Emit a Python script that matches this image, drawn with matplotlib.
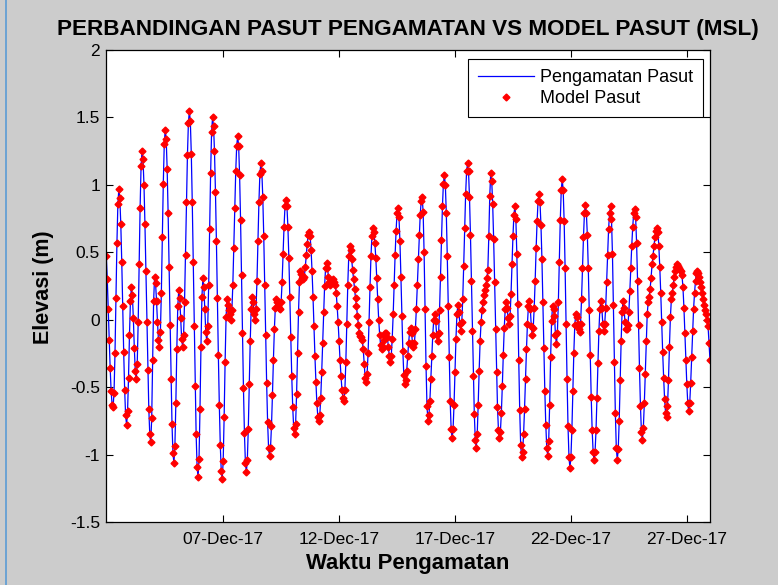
import numpy as np
import pandas as pd
import matplotlib
matplotlib.use("Agg")
import matplotlib.pyplot as plt
from matplotlib.lines import Line2D

plt.rcParams["font.family"] = ["Liberation Sans", "DejaVu Sans"]

# hourly tide elevation (m, relative to MSL)
start_time = "2017-12-01 23:00"
pengamatan_pasut = [
    0.47, 0.30, 0.08, -0.15, -0.36, -0.53, -0.63, -0.65,
    -0.54, -0.25, 0.16, 0.57, 0.86, 0.97, 0.90, 0.71, 0.43, 0.10, -0.24, -0.52,
    -0.71, -0.78, -0.68, -0.43, -0.11, 0.14,
    0.24, 0.18, 0.01, -0.21, -0.38, -0.44, -0.33, -0.02, 0.41, 0.83, 1.14, 1.25,
    1.19, 1.00, 0.71, 0.36, -0.02, -0.37, -0.66, -0.85, -0.91, -0.73, -0.30, 0.14,
    0.32, 0.27, 0.14, -0.02, -0.15, -0.20, -0.09, 0.20, 0.61, 1.01, 1.30, 1.41,
    1.34, 1.12, 0.79, 0.39, -0.04, -0.44, -0.77, -0.99, -1.06, -0.94, -0.62, -0.22,
    0.10, 0.22, 0.16, 0.01, -0.14, -0.20, -0.11, 0.13, 0.48, 0.87, 1.22, 1.46,
    1.55, 1.47, 1.23, 0.87, 0.43, -0.05, -0.49, -0.85, -1.09, -1.17, -1.03, -0.66,
    -0.20, 0.17, 0.31, 0.24, 0.08, -0.09, -0.16, -0.05, 0.26, 0.67, 1.09, 1.39,
    1.50, 1.44, 1.25, 0.95, 0.58, 0.16, -0.26, -0.63, -0.93, -1.12, -1.18, -1.05,
    -0.72, -0.31, 0.02, 0.15, 0.11, 0.07, 0.04, 0.00, 0.07, 0.26, 0.53, 0.83,
    1.10, 1.29, 1.36, 1.29, 1.07, 0.74, 0.33, -0.10, -0.51, -0.84, -1.06, -1.13, -1.04,
    -0.81, -0.48, -0.16, 0.08, 0.17, 0.13, 0.04, 0.00, 0.08, 0.29, 0.58, 0.87,
    1.08, 1.16, 1.10, 0.91, 0.62, 0.26, -0.11, -0.47, -0.76, -0.95, -1.01, -0.95,
    -0.79, -0.56, -0.30, -0.07, 0.09, 0.15, 0.13, 0.10, 0.09, 0.08, 0.13, 0.28,
    0.49, 0.69, 0.84, 0.89, 0.84, 0.69, 0.46, 0.17, -0.13, -0.42, -0.65, -0.80, -0.85,
    -0.77, -0.55, -0.25, 0.06, 0.28, 0.36, 0.34, 0.31, 0.30, 0.32, 0.39, 0.48,
    0.56, 0.63, 0.65, 0.62, 0.52, 0.36, 0.17, -0.05, -0.27, -0.46, -0.62, -0.72,
    -0.75, -0.71, -0.58, -0.39, -0.17, 0.06, 0.25, 0.38, 0.42, 0.38, 0.32, 0.28,
    0.26, 0.27, 0.29, 0.30, 0.28, 0.26, 0.20, 0.10, -0.02, -0.16, -0.30, -0.42,
    -0.52, -0.58, -0.60, -0.52, -0.31, -0.03, 0.26, 0.47, 0.55, 0.52, 0.45, 0.37,
    0.30, 0.23, 0.16, 0.10, 0.03, -0.04, -0.10, -0.12, -0.13, -0.15, -0.22, -0.33,
    -0.43, -0.46, -0.40, -0.25, -0.02, 0.24, 0.47, 0.62, 0.68, 0.65, 0.57, 0.46,
    0.31, 0.15, 0.00, -0.11, -0.19, -0.22, -0.20, -0.15, -0.11, -0.10, -0.10, -0.13, -0.20,
    -0.27, -0.31, -0.27, -0.14, 0.04, 0.26, 0.48, 0.66, 0.79, 0.83, 0.76, 0.58,
    0.32, 0.03, -0.23, -0.41, -0.48, -0.45, -0.38, -0.27, -0.17, -0.09, -0.06, -0.10,
    -0.17, -0.20, -0.17, -0.07, 0.08, 0.26, 0.45, 0.63, 0.78, 0.88, 0.91, 0.80,
    0.50, 0.08, -0.34, -0.64, -0.75, -0.71, -0.60, -0.44, -0.27, -0.11, 0.00, 0.04,
    -0.01, -0.11, -0.16, -0.10, 0.07, 0.32, 0.59, 0.84, 1.01, 1.07, 1.00, 0.79,
    0.47, 0.10, -0.28, -0.60, -0.81, -0.88, -0.81, -0.63, -0.39, -0.14, 0.04, 0.11,
    0.06, -0.03, -0.08, -0.02, 0.15, 0.40, 0.68, 0.93, 1.10, 1.16, 1.10, 0.91,
    0.63, 0.29, -0.08, -0.42, -0.70, -0.89, -0.95, -0.85, -0.63, -0.38, -0.16, -0.02,
    0.07, 0.13, 0.18, 0.22, 0.26, 0.31, 0.37, 0.62, 0.92, 1.09, 1.03, 0.86,
    0.60, 0.28, -0.07, -0.39, -0.65, -0.82, -0.88, -0.83, -0.69, -0.49, -0.26, -0.06,
    0.08, 0.13, 0.09, 0.01, -0.03, 0.03, 0.19, 0.41, 0.62, 0.78, 0.84, 0.75,
    0.49, 0.12, -0.30, -0.67, -0.93, -1.02, -0.98, -0.85, -0.66, -0.44, -0.22, -0.03,
    0.10, 0.14, 0.08, -0.05, -0.11, -0.06, 0.09, 0.29, 0.53, 0.73, 0.88, 0.93,
    0.87, 0.70, 0.45, 0.13, -0.21, -0.53, -0.78, -0.95, -1.01, -0.90, -0.63, -0.28,
    -0.01, 0.10, 0.08, 0.03, -0.11, -0.18, -0.10, 0.13, 0.43, 0.74, 0.96, 1.04,
    0.96, 0.73, 0.38, -0.03, -0.44, -0.79, -1.02, -1.10, -1.02, -0.82, -0.53, -0.25, -0.04,
    0.04, 0.02, -0.03, -0.07, -0.09, -0.03, 0.15, 0.38, 0.61, 0.79, 0.85, 0.79,
    0.63, 0.38, 0.07, -0.26, -0.57, -0.82, -0.98, -1.04, -0.98, -0.82, -0.58, -0.32,
    -0.08, 0.08, 0.14, 0.09, -0.03, -0.08, -0.03, 0.09, 0.28, 0.48, 0.67, 0.79,
    0.84, 0.75, 0.49, 0.11, -0.31, -0.69, -0.95, -1.04, -0.96, -0.75, -0.45, -0.16,
    0.06, 0.14, 0.09, -0.02, -0.07, -0.07, -0.04, 0.06, 0.21, 0.38, 0.55, 0.69,
    0.79, 0.82, 0.76, 0.57, 0.29, -0.04, -0.36, -0.64, -0.83, -0.89, -0.80, -0.62, -0.40,
    -0.16, 0.04, 0.13, 0.17, 0.23, 0.31, 0.41, 0.47, 0.55, 0.61, 0.66, 0.68,
    0.65, 0.55, 0.39, 0.20, -0.02, -0.24, -0.43, -0.59, -0.69, -0.72, -0.64, -0.45,
    -0.20, 0.02, 0.15, 0.20, 0.26, 0.32, 0.36, 0.39, 0.41, 0.40, 0.38, 0.37,
    0.36, 0.33, 0.24, 0.09, -0.10, -0.30, -0.48, -0.62, -0.68, -0.62, -0.47, -0.28,
    -0.08, 0.08, 0.20, 0.29, 0.35, 0.36, 0.35, 0.32, 0.28, 0.24, 0.20, 0.15,
    0.11, 0.07, 0.04, 0.00, -0.05, -0.17, -0.30,
]
# model sits on the observations at this scale
model_pasut = list(pengamatan_pasut)

tick_dates = ["2017-12-07", "2017-12-12", "2017-12-17", "2017-12-22", "2017-12-27"]
tick_labels = ["07-Dec-17", "12-Dec-17", "17-Dec-17", "22-Dec-17", "27-Dec-17"]
y_ticks = [-1.5, -1, -0.5, 0, 0.5, 1, 1.5, 2]
y_labels = ["-1.5", "-1", "-0.5", "0", "0.5", "1", "1.5", "2"]

W, H = 778, 585


def fx(px):
    return px / W


def fy(py):
    return 1 - py / H


fig = plt.figure(figsize=(W / 100, H / 100), dpi=100, facecolor="#cccccc")
ax = fig.add_axes([fx(106.3), fy(522), fx(710) - fx(106.3), fy(50) - fy(522)])

times = pd.date_range(start_time, periods=len(pengamatan_pasut), freq="h")

ax.plot(times, pengamatan_pasut, color="blue", lw=0.9, label="Pengamatan Pasut")
ax.plot(times, model_pasut, ls="none", marker="D", ms=3.5, color="red",
        mec="red", label="Model Pasut")

ax.set_xlim(times[0], times[-1])
ax.set_ylim(-1.5, 2)
ax.set_yticks(y_ticks)
ax.set_yticklabels(y_labels)
ax.set_xticks(pd.to_datetime(tick_dates))
ax.set_xticklabels(tick_labels)

ax.tick_params(direction="in", top=True, right=True, length=5, width=0.8,
               labelsize=12.5, colors="black")
ax.tick_params(axis="x", pad=7.5)
ax.tick_params(axis="y", pad=4.5)
for s in ax.spines.values():
    s.set_linewidth(0.9)
    s.set_color("black")

leg = ax.legend(loc="upper right", bbox_to_anchor=(fx(702.7), fy(59.3)),
                bbox_transform=fig.transFigure, fontsize=13, frameon=True,
                fancybox=False, edgecolor="black", framealpha=1,
                handlelength=3.1, handletextpad=0.3, borderpad=0.55,
                labelspacing=0.2, borderaxespad=0, numpoints=1)
leg.get_frame().set_linewidth(0.8)

fig.text(fx(408), fy(29), "PERBANDINGAN PASUT PENGAMATAN VS MODEL PASUT (MSL)",
         ha="center", va="center", fontsize=16.2, fontweight="bold")
fig.text(fx(408), fy(564), "Waktu Pengamatan", ha="center", va="center",
         fontsize=15.9, fontweight="bold")
fig.text(fx(43), fy(287), "Elevasi (m)", ha="center", va="center",
         rotation=90, fontsize=15.5, fontweight="bold")

# window border seen at the left of the screenshot
fig.add_artist(Line2D([fx(5.5), fx(5.5)], [0, 1], color="#5b9bd5", lw=1.2,
                      transform=fig.transFigure))

fig.savefig("out.png", dpi=100, facecolor=fig.get_facecolor())
